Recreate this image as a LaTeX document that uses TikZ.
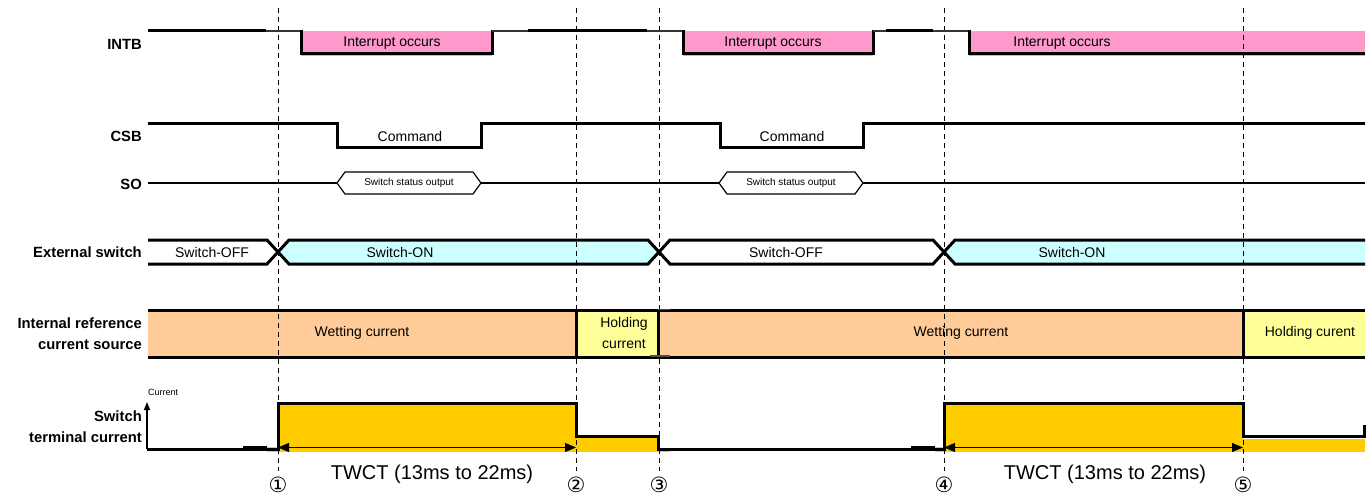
\documentclass[tikz,border=0pt]{standalone}
\usepackage{fontspec}
\setmainfont{Liberation Sans}
\newfontfamily\circfont{DejaVu Sans}
\usetikzlibrary{arrows.meta}
\definecolor{pinkF}{HTML}{FF99CC}
\definecolor{cyanF}{HTML}{CCFFFF}
\definecolor{peachF}{HTML}{FFCC99}
\definecolor{lyelF}{HTML}{FFFF99}
\definecolor{goldF}{HTML}{FFCC00}
\begin{document}
\begin{tikzpicture}[x=1pt,y=-1pt,
  lbl/.style={font=\fontsize{14.8}{17}\selectfont\bfseries, anchor=east, inner sep=0pt},
  txt/.style={font=\fontsize{14}{16}\selectfont, inner sep=0pt},
  smalltxt/.style={font=\fontsize{10}{12}\selectfont, inner sep=0pt},
  tinytxt/.style={font=\fontsize{9}{11}\selectfont, inner sep=0pt},
  bigtxt/.style={font=\fontsize{20}{24}\selectfont, inner sep=0pt},
  circtxt/.style={font=\fontsize{21}{24}\selectfont\circfont, inner sep=0pt},
  sig/.style={line width=3pt, line join=miter},
  thinsig/.style={line width=1.8pt, black!80},
  guide/.style={line width=0.9pt, dash pattern=on 5pt off 4pt},
  twct/.style={line width=1pt, {Triangle[length=11pt,width=9pt]}-{Triangle[length=11pt,width=9pt]}}
]
\useasboundingbox (0,0) rectangle (1370,495);

% ---------- fills ----------
% INTB
\fill[pinkF] (301,31) rectangle (492,55.8);
\fill[pinkF] (683,31) rectangle (873,55.8);
\fill[pinkF] (969,31) rectangle (1365,55.8);
% External switch
\fill[cyanF] (278,252) -- (289,240) -- (648,240) -- (659,252) -- (648,264) -- (289,264) -- cycle;
\fill[cyanF] (944,252) -- (955,240) -- (1365,240) -- (1365,264) -- (955,264) -- cycle;
% Internal reference current source
\fill[peachF] (148,310.5) rectangle (576,357);
\fill[lyelF] (576,310.5) rectangle (658,357);
\fill[peachF] (658,310.5) rectangle (1243,357);
\fill[lyelF] (1243,310.5) rectangle (1365,357);
% Switch terminal current
\fill[goldF] (267,447) rectangle (278,452);
\fill[goldF] (278,403) rectangle (576,451.5);
\fill[goldF] (576,436) rectangle (658,451.5);
\fill[goldF] (658,449) rectangle (670,452);
\fill[goldF] (935,447) rectangle (944,452);
\fill[goldF] (944,403) rectangle (1243,451.5);
\fill[goldF] (1243,438.5) rectangle (1365,451.5);

% ---------- dashed guides ----------
\foreach \gx/\gn in {278/g1,576/g2,659/g3,944/g4,1243/g5}{
  \coordinate (\gn top) at (\gx,8);
  \coordinate (\gn bot) at (\gx,471);
  \draw[guide] (\gn top) -- (\gn bot);
}

% ---------- labels ----------
\node[lbl] (lINTB) at (142,44) {INTB};
\node[lbl] (lCSB) at (142,136) {CSB};
\node[lbl] (lSO) at (142,184) {SO};
\node[lbl] (lEXT) at (142,252) {External switch};
\node[lbl] (lREF1) at (142,323) {Internal reference};
\node[lbl] (lREF2) at (142,345) {current source};
\node[lbl] (lSW1) at (142,416) {Switch};
\node[lbl] (lSW2) at (142,437.5) {terminal current};

% ---------- INTB ----------
\draw[sig] (148,30.5) -- (266,30.5);
\draw[thinsig] (266,31.3) -- (301,31.3);
\draw[sig] (301,30) -- (301,54) -- (492,54) -- (492,30.5);
\draw[thinsig] (492,31) -- (528,31);
\draw[sig] (528,30.5) -- (647,30.5);
\draw[thinsig] (647,31.3) -- (683,31.3);
\draw[sig] (683,30) -- (683,54) -- (873,54) -- (873,30.5);
\draw[thinsig] (873,31) -- (886,31);
\draw[sig] (886,30.5) -- (933,30.5);
\draw[thinsig] (933,31.3) -- (969,31.3);
\draw[sig] (969,30) -- (969,54) -- (1365,54);
\node[txt] (int1) at (392,43.5) {Interrupt occurs};
\node[txt] (int2) at (773,43.5) {Interrupt occurs};
\node[txt] (int3) at (1062,43.5) {Interrupt occurs};

% ---------- CSB ----------
\draw[sig] (148,123) -- (337,123) -- (337,147) -- (481,147) -- (481,123)
  -- (720,123) -- (720,147) -- (863,147) -- (863,123) -- (1365,123);
\node[txt] (cmd1) at (410,136) {Command};
\node[txt] (cmd2) at (792,136) {Command};

% ---------- SO ----------
\draw[line width=1.2pt] (148,183) -- (337,183);
\draw[line width=1.2pt] (481,183) -- (719,183);
\draw[line width=1.2pt] (863,183) -- (1365,183);
\draw[line width=1.2pt] (337,183) -- (345,172) -- (473,172) -- (481,183) -- (473,194) -- (345,194) -- cycle;
\draw[line width=1.2pt] (719,183) -- (727,172) -- (855,172) -- (863,183) -- (855,194) -- (727,194) -- cycle;
\node[smalltxt] (so1) at (409,182.5) {Switch status output};
\node[smalltxt] (so2) at (791,182.5) {Switch status output};

% ---------- External switch ----------
\draw[sig] (148,240) -- (267,240) -- (289,264) -- (648,264) -- (670,240) -- (933,240) -- (955,264) -- (1365,264);
\draw[sig] (148,264) -- (267,264) -- (289,240) -- (648,240) -- (670,264) -- (933,264) -- (955,240) -- (1365,240);
\node[txt] (ex1) at (212,252) {Switch-OFF};
\node[txt] (ex2) at (400,252) {Switch-ON};
\node[txt] (ex3) at (786,252) {Switch-OFF};
\node[txt] (ex4) at (1072,252) {Switch-ON};

% ---------- Internal reference current source ----------
\draw[sig] (148,310.5) -- (1365,310.5);
\draw[sig] (148,357) -- (1365,357);
\draw[sig] (576,310.5) -- (576,357);
\draw[sig] (658,309) -- (658,358);
\draw[line width=1.8pt, gray!60!black] (658,309.5) -- (670,309.5);
\draw[line width=1.8pt, gray!60!black] (650,356) -- (670,356);
\draw[sig] (1243,310.5) -- (1243,357);
\node[txt] (wet1) at (362,333) {Wetting current};
\node[txt] (hold1a) at (624,324) {Holding};
\node[txt] (hold1b) at (624,344.5) {current};
\node[txt] (wet2) at (961,333) {Wetting current};
\node[txt] (hold2) at (1310,333) {Holding curent};

% ---------- Switch terminal current ----------
\coordinate (axbot) at (147,449);
\coordinate (axtop) at (147,402);
\draw[line width=1.4pt, -{Triangle[length=8pt,width=6pt]}] (axbot) -- (axtop);
\node[tinytxt, anchor=west] (curlbl) at (148,392) {Current};
\draw[sig] (147,449) -- (278,449) -- (278,403) -- (576,403) -- (576,436) -- (658,436) -- (658,449)
  -- (944,449) -- (944,403) -- (1243,403) -- (1243,436) -- (1364,436) -- (1364,425);
\draw[line width=3.6pt] (243,447.8) -- (267,447.8);
\draw[line width=3.6pt] (911,447.8) -- (935,447.8);
\coordinate (tw1a) at (278,447.5);
\coordinate (tw1b) at (576,447.5);
\coordinate (tw2a) at (944,447.5);
\coordinate (tw2b) at (1243,447.5);
\draw[twct] (tw1a) -- (tw1b);
\draw[twct] (tw2a) -- (tw2b);
\node[bigtxt] (twt1) at (432,474) {TWCT (13ms to 22ms)};
\node[bigtxt] (twt2) at (1105,474) {TWCT (13ms to 22ms)};

% ---------- circled numbers ----------
\node[circtxt] (n1) at (278,485) {①};
\node[circtxt] (n2) at (576,485) {②};
\node[circtxt] (n3) at (659,485) {③};
\node[circtxt] (n4) at (944,485) {④};
\node[circtxt] (n5) at (1243,485) {⑤};
\end{tikzpicture}
\end{document}
